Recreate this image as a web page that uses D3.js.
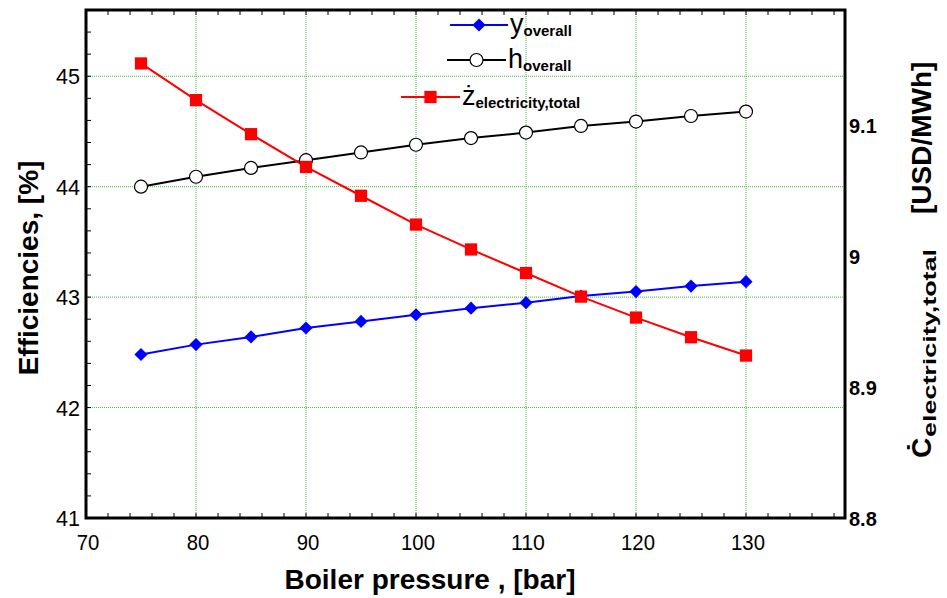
<!DOCTYPE html>
<html>
<head>
<meta charset="utf-8">
<script src="https://cdn.jsdelivr.net/npm/d3@7"></script>
<style>
  body { margin: 0; background: #fff; }
  svg { font-family: "Liberation Sans", Arial, sans-serif; }
</style>
</head>
<body>
<svg id="chart" width="947" height="598"></svg>
<script>
const pressure = [75, 80, 85, 90, 95, 100, 105, 110, 115, 120, 125, 130];
const psiOverall = [42.48, 42.57, 42.64, 42.72, 42.78, 42.84, 42.90, 42.95, 43.01, 43.05, 43.10, 43.14];
const etaOverall = [44.00, 44.09, 44.17, 44.24, 44.31, 44.38, 44.44, 44.49, 44.55, 44.59, 44.64, 44.68];
const costElectricity = [9.147, 9.119, 9.093, 9.068, 9.046, 9.024, 9.005, 8.987, 8.969, 8.953, 8.938, 8.924];
const xTicks = [70, 80, 90, 100, 110, 120, 130];
const leftTicks = [41, 42, 43, 44, 45];
const rightTicks = [8.8, 8.9, 9, 9.1];

const svg = d3.select("#chart");
const plotL = 86, plotR = 845, plotT = 10, plotB = 518;

const x = d3.scaleLinear().domain([70, 139]).range([plotL, plotR]);
const yL = d3.scaleLinear().domain([41, 45.6]).range([plotB, plotT]);
const yR = d3.scaleLinear().domain([8.8, 9.1878]).range([plotB, plotT]);

// grid
const grid = svg.append("g").attr("stroke", "#44bb44").attr("stroke-width", 1).attr("stroke-dasharray", "1,1");
grid.selectAll(".gx").data(xTicks.filter(d => d > 70)).join("line")
  .attr("x1", d => x(d)).attr("x2", d => x(d)).attr("y1", plotT).attr("y2", plotB);
grid.selectAll(".gy").data(leftTicks.filter(d => d > 41)).join("line")
  .attr("y1", d => yL(d)).attr("y2", d => yL(d)).attr("x1", plotL).attr("x2", plotR);

// minor ticks, pointing inward
const minorX = d3.range(70, 139, 2);
const minorY = d3.range(41, 45.61, 0.2);
const ticks = svg.append("g").attr("stroke", "#000").attr("stroke-width", 1);
ticks.selectAll(".tb").data(minorX.slice(1)).join("line")
  .attr("x1", d => x(d)).attr("x2", d => x(d)).attr("y1", plotB).attr("y2", plotB - 5);
ticks.selectAll(".tt").data(minorX.slice(1)).join("line")
  .attr("x1", d => x(d)).attr("x2", d => x(d)).attr("y1", plotT).attr("y2", plotT + 5);
ticks.selectAll(".tl").data(minorY.slice(1)).join("line")
  .attr("y1", d => yL(d)).attr("y2", d => yL(d)).attr("x1", plotL).attr("x2", plotL + 5);

// frame
svg.append("rect").attr("x", plotL).attr("y", plotT).attr("width", plotR - plotL).attr("height", plotB - plotT)
  .attr("fill", "none").attr("stroke", "#000").attr("stroke-width", 3);

// tick labels (slightly condensed like the original)
svg.append("g").selectAll("text").data(xTicks).join("text")
  .attr("x", d => x(d) + 2).attr("y", 550).attr("text-anchor", "middle")
  .attr("font-size", 22).attr("textLength", d => String(d).length * 11.3)
  .attr("lengthAdjust", "spacingAndGlyphs").text(d => d);
svg.append("g").selectAll("text").data(leftTicks).join("text")
  .attr("x", 80).attr("y", d => yL(d) + 8).attr("text-anchor", "end")
  .attr("font-size", 22).attr("textLength", 24)
  .attr("lengthAdjust", "spacingAndGlyphs").text(d => d);
svg.append("g").selectAll("text").data(rightTicks).join("text")
  .attr("x", 849).attr("y", d => yR(d) + 8).attr("text-anchor", "start")
  .attr("font-size", 20).attr("font-weight", "bold").text(d => d);

// axis titles
svg.append("text").attr("x", 430).attr("y", 589).attr("text-anchor", "middle")
  .attr("font-size", 28).attr("font-weight", "bold").text("Boiler pressure , [bar]");
svg.append("text").attr("transform", "translate(38,268) rotate(-90)").attr("text-anchor", "middle")
  .attr("font-size", 28).attr("font-weight", "bold").text("Efficiencies, [%]");
const rt = svg.append("g").attr("transform", "translate(931,458) rotate(-90)").attr("font-weight", "bold");
rt.append("text").attr("x", 0).attr("y", 0).attr("font-size", 28).text("\u010A");
rt.append("text").attr("x", 21).attr("y", 5).attr("font-size", 19)
  .attr("textLength", 188).attr("lengthAdjust", "spacingAndGlyphs").text("electricity,total");
rt.append("text").attr("x", 244).attr("y", 0).attr("font-size", 28).text("[USD/MWh]");

// series
const line = (ys, sc) => d3.line().x((d, i) => x(pressure[i])).y(d => sc(d))(ys);
svg.append("path").attr("d", line(psiOverall, yL)).attr("fill", "none").attr("stroke", "#0000ff").attr("stroke-width", 2);
svg.append("path").attr("d", line(etaOverall, yL)).attr("fill", "none").attr("stroke", "#000").attr("stroke-width", 2);
svg.append("path").attr("d", line(costElectricity, yR)).attr("fill", "none").attr("stroke", "#ff0000").attr("stroke-width", 2);

const diamond = d3.symbol().type(d3.symbolDiamond2).size(110);
const square = d3.symbol().type(d3.symbolSquare).size(150);

svg.append("g").selectAll("path").data(psiOverall).join("path")
  .attr("transform", (d, i) => `translate(${x(pressure[i])},${yL(d)})`)
  .attr("d", diamond).attr("fill", "#0000ff");
svg.append("g").selectAll("circle").data(etaOverall).join("circle")
  .attr("cx", (d, i) => x(pressure[i])).attr("cy", d => yL(d)).attr("r", 6.5)
  .attr("fill", "#fff").attr("stroke", "#000").attr("stroke-width", 1.2);
svg.append("g").selectAll("path").data(costElectricity).join("path")
  .attr("transform", (d, i) => `translate(${x(pressure[i])},${yR(d)})`)
  .attr("d", square).attr("fill", "#ff0000");

// legend
const lg = svg.append("g");
const entries = [
  {x1: 450, x2: 508, y: 25, color: "#0000ff", mark: "diamond", main: "y", sub: "overall"},
  {x1: 447, x2: 506, y: 60, color: "#000", mark: "circle", main: "h", sub: "overall"},
  {x1: 401, x2: 460, y: 97, color: "#ff0000", mark: "square", main: "\u017C", sub: "electricity,total"}
];
entries.forEach(e => {
  const cx = (e.x1 + e.x2) / 2;
  lg.append("line").attr("x1", e.x1).attr("x2", e.x2).attr("y1", e.y).attr("y2", e.y)
    .attr("stroke", e.color).attr("stroke-width", 2);
  if (e.mark === "diamond") {
    lg.append("path").attr("transform", `translate(${cx},${e.y})`).attr("d", diamond).attr("fill", e.color);
  } else if (e.mark === "circle") {
    lg.append("circle").attr("cx", cx).attr("cy", e.y).attr("r", 6.5)
      .attr("fill", "#fff").attr("stroke", "#000").attr("stroke-width", 1.2);
  } else {
    lg.append("path").attr("transform", `translate(${cx},${e.y})`).attr("d", square).attr("fill", e.color);
  }
  const t = lg.append("text").attr("x", e.x2 + 2).attr("y", e.y + 8);
  t.append("tspan").attr("font-size", 27).text(e.main);
  t.append("tspan").attr("font-size", 15).attr("font-weight", "bold").attr("dy", 3).text(e.sub);
});
</script>
</body>
</html>
